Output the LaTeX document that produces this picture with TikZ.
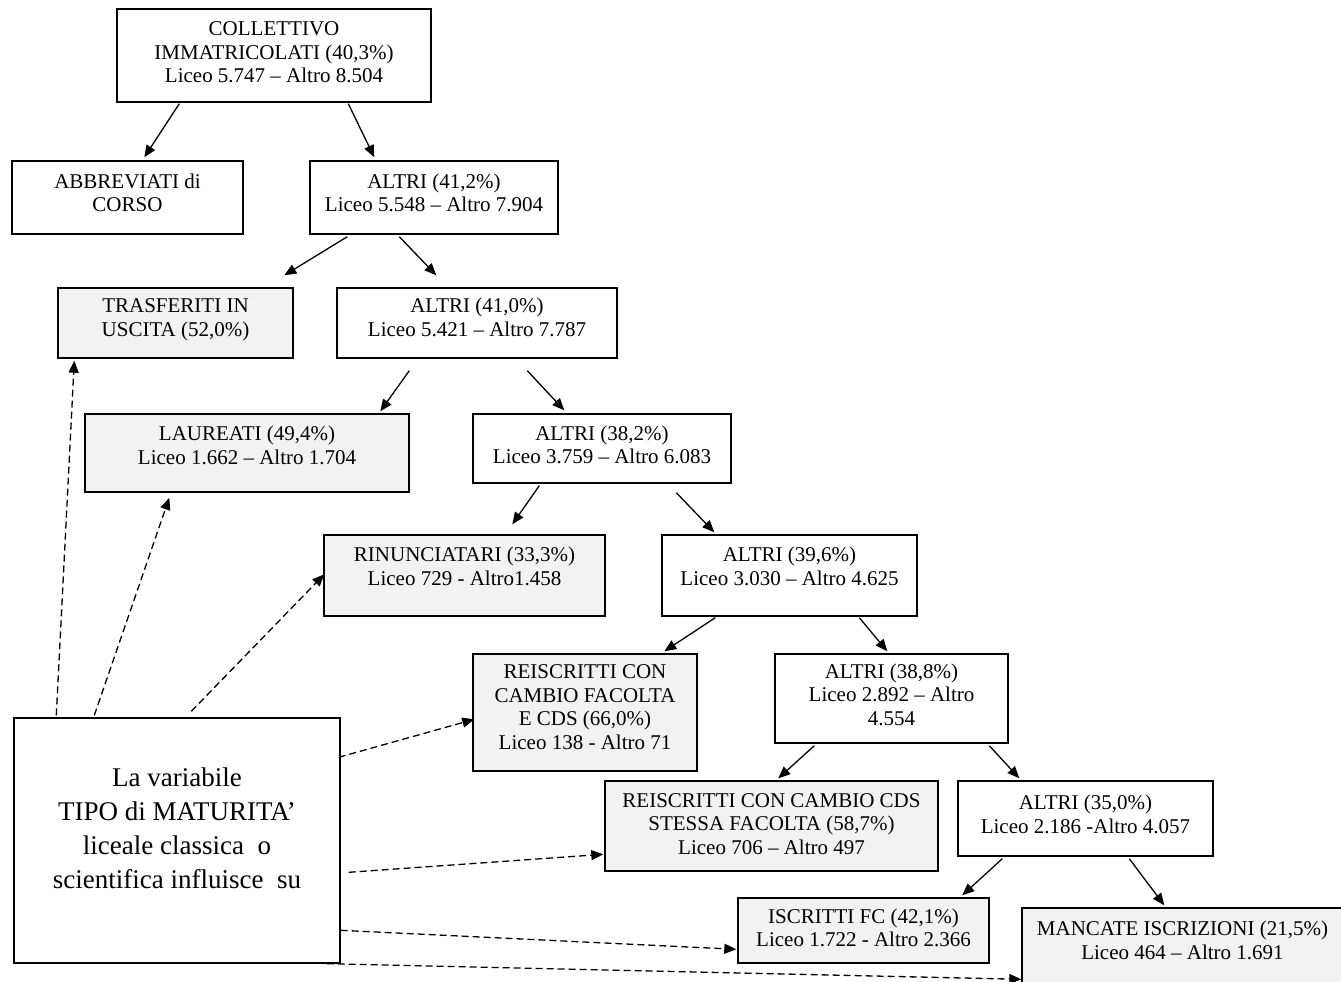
\documentclass[tikz,border=0pt]{standalone}
\usepackage{fontspec}
\setmainfont{Liberation Serif}
\usetikzlibrary{arrows.meta,calc}
\definecolor{boxgray}{HTML}{F2F2F2}
\newcommand\mylift[2]{\raisebox{#1}[\height][\depth]{\begin{tabular}{@{}c@{}}#2\end{tabular}}}
\begin{document}
\begin{tikzpicture}[x=1pt,y=-1pt,
  box/.style={draw, line width=1.4pt, inner sep=0pt, align=center, font=\fontsize{21}{23.5}\selectfont},
  gbox/.style={box, fill=boxgray},
  arr/.style={-{Triangle[length=12pt,width=10pt]}, line width=1.3pt},
  darr/.style={arr, dash pattern=on 7pt off 4pt}]
\useasboundingbox (0,0) rectangle (1341,982);

\node[box, minimum width=314, minimum height=93] (c) at (274,55.5)
  {\mylift{1pt}{COLLETTIVO\\IMMATRICOLATI (40,3\%)\\Liceo 5.747 -- Altro 8.504}};
\node[box, minimum width=231, minimum height=73] (ab) at (127.5,197.5)
  {\mylift{2pt}{ABBREVIATI di\\CORSO}};
\node[box, minimum width=248, minimum height=73] (a1) at (434,197.5)
  {\mylift{2pt}{ALTRI (41,2\%)\\Liceo 5.548 -- Altro 7.904}};
\node[gbox, minimum width=235, minimum height=70] (tr) at (175.5,323)
  {\mylift{3pt}{TRASFERITI IN\\USCITA (52,0\%)}};
\node[box, minimum width=280, minimum height=70] (a2) at (477,323)
  {\mylift{3pt}{ALTRI (41,0\%)\\Liceo 5.421 -- Altro 7.787}};
\node[gbox, minimum width=324, minimum height=78] (la) at (247,453)
  {\mylift{5pt}{LAUREATI (49,4\%)\\Liceo 1.662 -- Altro 1.704}};
\node[box, minimum width=258, minimum height=69] (a3) at (602,448.5)
  {\mylift{1pt}{ALTRI (38,2\%)\\Liceo 3.759 -- Altro 6.083}};
\node[gbox, minimum width=281, minimum height=81] (ri) at (464.5,575.5)
  {\mylift{6.5pt}{RINUNCIATARI (33,3\%)\\Liceo 729 - Altro1.458}};
\node[box, minimum width=255, minimum height=81] (a4) at (789.5,575.5)
  {\mylift{6.5pt}{ALTRI (39,6\%)\\Liceo 3.030 -- Altro 4.625}};
\node[gbox, minimum width=224, minimum height=117] (rf) at (585,712.5)
  {\mylift{3pt}{REISCRITTI CON\\CAMBIO FACOLTA\\E CDS (66,0\%)\\Liceo 138 - Altro 71}};
\node[box, minimum width=233, minimum height=89] (a5) at (891.5,698.5)
  {\mylift{1.5pt}{ALTRI (38,8\%)\\Liceo 2.892 -- Altro\\4.554}};
\node[gbox, minimum width=333, minimum height=90] (rc) at (771.5,826)
  {\mylift{0pt}{REISCRITTI CON CAMBIO CDS\\STESSA FACOLTA (58,7\%)\\Liceo 706 -- Altro 497}};
\node[box, minimum width=255, minimum height=75] (a6) at (1085.5,818.5)
  {\mylift{1.5pt}{ALTRI (35,0\%)\\Liceo 2.186 -Altro 4.057}};
\node[gbox, minimum width=251, minimum height=65] (fc) at (863.5,930.5)
  {\mylift{0pt}{ISCRITTI FC (42,1\%)\\Liceo 1.722 - Altro 2.366}};
\node[gbox, minimum width=321, minimum height=84] (mi) at (1182.5,950)
  {\mylift{7pt}{MANCATE ISCRIZIONI (21,5\%)\\Liceo 464 -- Altro 1.691}};
\node[box, font=\fontsize{27}{34}\selectfont, minimum width=326, minimum height=245] (v) at (177,840.5)
  {\mylift{9.5pt}{La variabile\\TIPO di MATURITA’\\liceale classica~ o\\scientifica influisce~ su}};

% solid arrows
\draw[arr] ($(c.south west)+(63,1)$) -- ($(ab.north west)+(133,-3)$);
\draw[arr] ($(c.south west)+(232,1)$) -- ($(a1.north west)+(65,-3)$);
\draw[arr] ($(a1.south west)+(38,2)$) -- ($(tr.north west)+(227,-12)$);
\draw[arr] ($(a1.south west)+(90,2)$) -- ($(a2.north west)+(100,-12)$);
\draw[arr] ($(a2.south west)+(73,12)$) -- ($(la.north west)+(296,-2)$);
\draw[arr] ($(a2.south west)+(191,12)$) -- ($(a3.north west)+(92,-3)$);
\draw[arr] ($(a3.south west)+(67,2)$) -- ($(ri.north west)+(189,-10)$);
\draw[arr] ($(a3.south west)+(204,9)$) -- ($(a4.north west)+(53,-2)$);
\draw[arr] ($(a4.south west)+(54,1)$) -- ($(rf.north west)+(192,-2)$);
\draw[arr] ($(a4.south west)+(198,1)$) -- ($(a5.north west)+(113,-2)$);
\draw[arr] ($(a5.south west)+(40,2)$) -- ($(rc.north west)+(174,-2)$);
\draw[arr] ($(a5.south west)+(215,2)$) -- ($(a6.north west)+(62,-2)$);
\draw[arr] ($(a6.south west)+(45,2)$) -- ($(fc.north west)+(225,-2)$);
\draw[arr] ($(a6.south west)+(172,2)$) -- ($(mi.north west)+(143,-2)$);

% dashed arrows
\draw[darr] ($(v.north west)+(43,-2)$) -- ($(tr.south west)+(17,2)$);
\draw[darr] ($(v.north west)+(81,-2)$) -- ($(la.south west)+(85,5)$);
\draw[darr] ($(v.north west)+(178,-6)$) -- ($(ri.north west)+(1,40)$);
\draw[darr] ($(v.north east)+(-2,40)$) -- ($(rf.north west)+(2,66)$);
\draw[darr] ($(v.north east)+(8,155)$) -- ($(rc.north west)+(-1,74)$);
\draw[darr] ($(v.north east)+(0,213)$) -- ($(fc.north west)+(-1,52)$);
\draw[darr] ($(v.south east)+(-14,0)$) -- ($(mi.north west)+(0,72)$);
\end{tikzpicture}
\end{document}
